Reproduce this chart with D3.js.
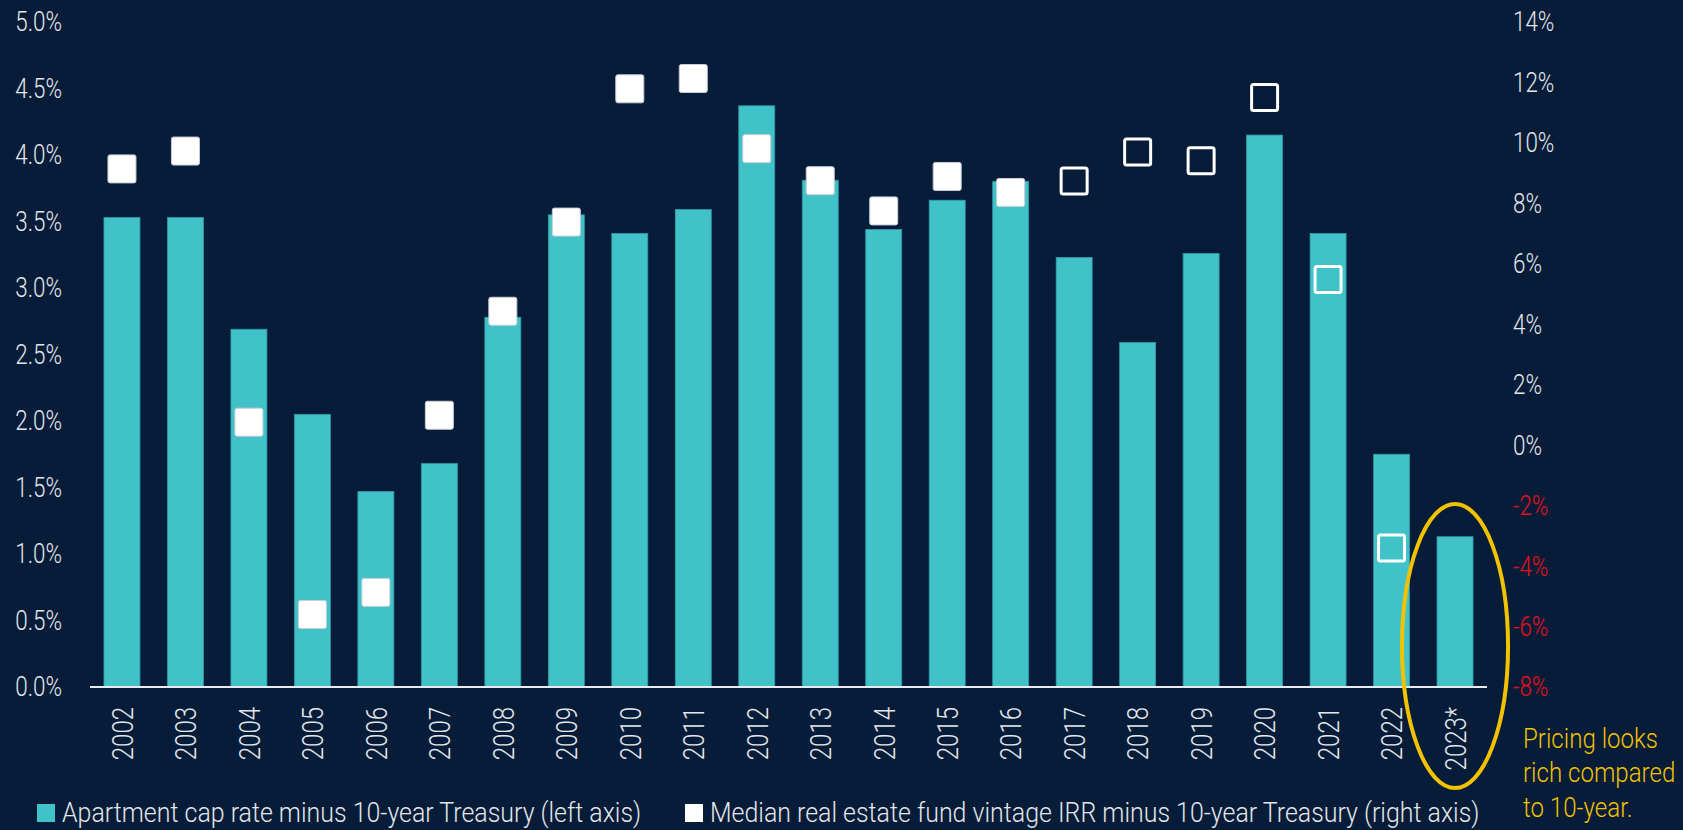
<!DOCTYPE html>
<meta charset="utf-8">
<style>
    body { margin: 0; background: #061c38; }
    text { font-family: Roboto, "Liberation Sans", sans-serif; font-weight: 300; }
    .tick line, .domain { display: none; }
</style>
<body></body>
<script src="https://cdn.jsdelivr.net/npm/d3@7"></script>
<script>
    // data
    var years = ["2002", "2003", "2004", "2005", "2006", "2007", "2008", "2009", "2010", "2011", "2012",
        "2013", "2014", "2015", "2016", "2017", "2018", "2019", "2020", "2021", "2022", "2023*"];
    // apartment cap rate minus 10y treasury, % (left axis)
    var capSpread = [3.53, 3.53, 2.69, 2.05, 1.47, 1.68, 2.78, 3.55, 3.41, 3.59, 4.37,
        3.81, 3.44, 3.66, 3.80, 3.23, 2.59, 3.26, 4.15, 3.41, 1.75, 1.13];
    // median fund vintage IRR minus 10y treasury, % (right axis)
    var irrSpread = [9.14, 9.73, 0.76, -5.6, -4.87, 0.99, 4.43, 7.38, 11.79, 12.13, 9.81,
        8.75, 7.75, 8.89, 8.36, 8.74, 9.70, 9.41, 11.5, 5.48, -3.4, null];
    // vintages from here on are drawn hollow
    var hollowFrom = "2017";
    var leftTicks = [0, 0.5, 1, 1.5, 2, 2.5, 3, 3.5, 4, 4.5, 5];
    var rightTicks = [-8, -6, -4, -2, 0, 2, 4, 6, 8, 10, 12, 14];
    var legendLabels = ["Apartment cap rate minus 10-year Treasury (left axis)",
        "Median real estate fund vintage IRR minus 10-year Treasury (right axis)"];
    var noteLines = ["Pricing looks", "rich compared", "to 10-year."];

    var W = 1683, H = 830;
    var plot = {left: 90, right: 1487, top: 22, bottom: 687};
    var sx = 0.8; // the source font is a narrow one
    var txt = "#e3e6ea", yellow = "#f2c200";

    var svg = d3.select("body").append("svg")
        .attr("width", W).attr("height", H);
    svg.append("rect").attr("width", W).attr("height", H).attr("fill", "#061c38");

    var x = d3.scaleBand().domain(years)
        .range([plot.left, plot.right])
        .paddingInner(0.433).paddingOuter(0.22);
    var yL = d3.scaleLinear().domain([0, 5]).range([plot.bottom, plot.top]);
    var yR = d3.scaleLinear().domain([-8, 14]).range([plot.bottom, plot.top]);

    // bars
    svg.append("g").selectAll("rect")
        .data(capSpread)
        .enter().append("rect")
        .attr("x", function(d, i) { return x(years[i]); })
        .attr("y", function(d) { return yL(d); })
        .attr("width", x.bandwidth())
        .attr("height", function(d) { return yL(0) - yL(d); })
        .attr("fill", "#40c2c8")
        .attr("stroke", "#2e9aa5")
        .attr("stroke-width", 0.8);

    // baseline
    svg.append("line")
        .attr("x1", plot.left).attr("x2", plot.right)
        .attr("y1", yL(0)).attr("y2", yL(0))
        .attr("stroke", "#e8ebef").attr("stroke-width", 2);

    // IRR markers
    var ms = 29;
    var pts = irrSpread.map(function(v, i) { return {year: years[i], v: v}; })
        .filter(function(d) { return d.v !== null; });
    svg.append("g").selectAll("rect")
        .data(pts)
        .enter().append("rect")
        .each(function(d) {
            var hollow = +d.year >= +hollowFrom;
            var s = hollow ? ms - 3 : ms - 1;
            d3.select(this)
                .attr("x", x(d.year) + x.bandwidth() / 2 - s / 2)
                .attr("y", yR(d.v) - s / 2)
                .attr("width", s).attr("height", s)
                .attr("rx", 2)
                .attr("fill", hollow ? "none" : "#ffffff")
                .attr("stroke", hollow ? "#ffffff" : "#c9cdd6")
                .attr("stroke-width", hollow ? 3 : 1);
        });

    // left axis
    var gl = svg.append("g")
        .attr("transform", "translate(" + plot.left + ",0)")
        .call(d3.axisLeft(yL).tickValues(leftTicks).tickSize(0).tickPadding(0)
            .tickFormat(function(d) { return d.toFixed(1) + "%"; }));
    gl.selectAll("text")
        .attr("x", -28 / sx)
        .attr("transform", "scale(" + sx + ",1)")
        .attr("fill", txt).style("font-size", "28px");

    // right axis
    var gr = svg.append("g")
        .attr("transform", "translate(" + plot.right + ",0)")
        .call(d3.axisRight(yR).tickValues(rightTicks).tickSize(0).tickPadding(0)
            .tickFormat(function(d) { return d + "%"; }));
    gr.selectAll("text")
        .attr("x", 26 / sx)
        .attr("transform", "scale(" + sx + ",1)")
        .attr("fill", function(d) { return d < 0 ? "#e8101a" : txt; })
        .style("font-size", "28px");

    // year labels
    var gb = svg.append("g")
        .attr("transform", "translate(0," + plot.bottom + ")")
        .call(d3.axisBottom(x).tickSize(0).tickPadding(0));
    gb.selectAll("text")
        .attr("transform", "rotate(-90) scale(" + sx + ",1)")
        .attr("x", -20 / sx)
        .attr("y", 0)
        .attr("dy", "0.36em")
        .attr("text-anchor", "end")
        .attr("fill", txt).style("font-size", "30px");

    // highlight on the latest year
    var last = years[years.length - 1];
    svg.append("ellipse")
        .attr("cx", x(last) + x.bandwidth() / 2)
        .attr("cy", 646)
        .attr("rx", 53).attr("ry", 142)
        .attr("fill", "none")
        .attr("stroke", yellow).attr("stroke-width", 4);

    var note = svg.append("g").attr("transform", "translate(1523,748) scale(0.86,1)");
    note.selectAll("text")
        .data(noteLines)
        .enter().append("text")
        .attr("y", function(d, i) { return i * 34.5; })
        .attr("fill", yellow).style("font-size", "28px")
        .text(function(d) { return d; });

    // legend
    var legendX = [37, 685];
    var legendFill = ["#40c2c8", "#ffffff"];
    var lg = svg.append("g").selectAll("g")
        .data(legendLabels)
        .enter().append("g")
        .attr("transform", function(d, i) { return "translate(" + legendX[i] + ",822)"; });
    lg.append("rect")
        .attr("y", -18).attr("width", 18).attr("height", 18)
        .attr("fill", function(d, i) { return legendFill[i]; });
    lg.append("text")
        .attr("transform", "translate(25,0) scale(0.89,1)")
        .attr("fill", txt).style("font-size", "28px")
        .text(function(d) { return d; });
</script>
